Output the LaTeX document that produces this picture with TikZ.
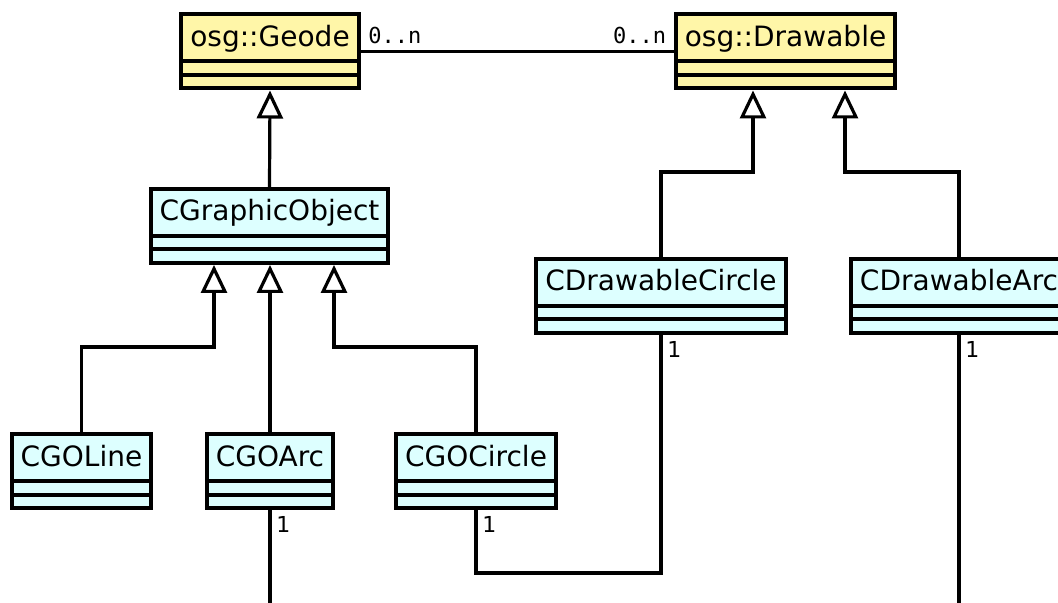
\documentclass[tikz,border=0pt]{standalone}
\usepackage{fontspec}
\setmainfont{DejaVu Sans}
\newfontfamily\monofont{DejaVu Sans Mono}
\usetikzlibrary{arrows.meta}
\definecolor{osgColor}{RGB}{255,246,168}
\definecolor{appColor}{RGB}{221,255,255}

\begin{document}
\begin{tikzpicture}[x=0.5pt,y=-0.5pt,
  klass/.style={draw, line width=2pt, minimum height=37pt,
    inner xsep=4.5pt, inner ysep=0pt, text height=12.5pt, text depth=17.5pt,
    anchor=north, font=\fontsize{14}{17}\selectfont,
    path picture={
      \draw [line width=2pt] ([yshift=6.75pt]path picture bounding box.south west)
        -- ([yshift=6.75pt]path picture bounding box.south east);
      \draw [line width=2pt] ([yshift=13.5pt]path picture bounding box.south west)
        -- ([yshift=13.5pt]path picture bounding box.south east);
    }},
  link/.style={line width=1.6pt},
  inherit/.style={link, -{Triangle[open,length=14pt,width=13pt]}},
  mult/.style={inner sep=3pt, font=\fontsize{11}{13}\selectfont},
]
\clip (0,0) rectangle (1058,603);

\node [klass, fill=osgColor] (geode) at (270,12.5) {osg::Geode};
\node [klass, fill=osgColor] (drawable) at (785.5,12.5) {osg::Drawable};
\node [klass, fill=appColor] (graphicobject) at (269.5,187) {CGraphicObject};
\node [klass, fill=appColor] (drawablecircle) at (661,257) {CDrawableCircle};
\node [klass, fill=appColor] (drawablearc) at (959,257) {CDrawableArc};
\node [klass, fill=appColor] (cgoline) at (81.5,432) {CGOLine};
\node [klass, fill=appColor] (cgoarc) at (270,432) {CGOArc};
\node [klass, fill=appColor] (cgocircle) at (476,432) {CGOCircle};
\coordinate (arcout) at (270,610);
\coordinate (drawarcout) at (959,610);

\draw [link] (geode.east) -- (drawable.west)
  node [pos=0, mult, above right] {\monofont 0..n}
  node [pos=1, mult, above left] {\monofont 0..n};

\draw [inherit] (graphicobject.north) -- (geode.south);
\draw [inherit] (cgoline.north) -- ++(0,-85) -| ([xshift=-27.75pt]graphicobject.south);
\draw [inherit] (cgoarc.north) -- (cgoarc.north |- graphicobject.south);
\draw [inherit] (cgocircle.north) -- ++(0,-85) -| ([xshift=32.25pt]graphicobject.south);
\draw [inherit] (drawablecircle.north) -- ++(0,-85) -| ([xshift=-16.25pt]drawable.south);
\draw [inherit] (drawablearc.north) -- ++(0,-85) -| ([xshift=29.75pt]drawable.south);

\draw [link] (cgocircle.south) -- ++(0,63) -| (drawablecircle.south);
\draw [link] (cgoarc.south) -- (arcout);
\draw [link] (drawablearc.south) -- (drawarcout);
\node [mult, below right] (m1) at (cgocircle.south) {1};
\node [mult, below right] (m2) at (drawablecircle.south) {1};
\node [mult, below right] (m3) at (cgoarc.south) {1};
\node [mult, below right] (m4) at (drawablearc.south) {1};
\end{tikzpicture}
\end{document}
